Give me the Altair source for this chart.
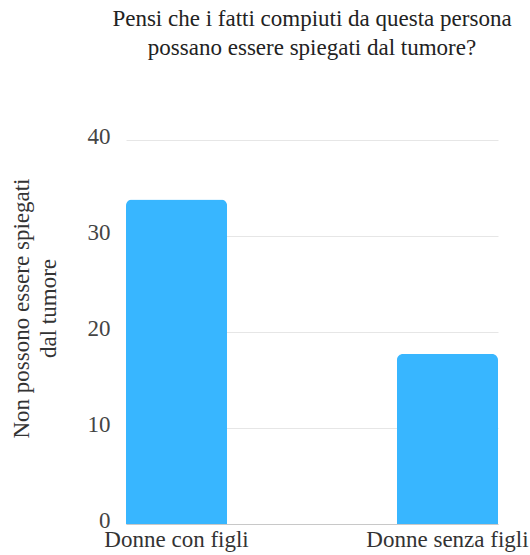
import altair as alt
import pandas as pd

categories = ["Donne con figli", "Donne senza figli"]
values = [33.8, 17.7]

df = pd.DataFrame({"gruppo": categories, "valore": values})

FONT = "Liberation Serif"

chart = (
    alt.Chart(df)
    .mark_bar(color="#38B6FF", cornerRadiusTopLeft=6, cornerRadiusTopRight=6)
    .encode(
        x=alt.X(
            "gruppo:N",
            sort=categories,
            scale=alt.Scale(paddingInner=0.627, paddingOuter=0),
            axis=alt.Axis(
                title=None,
                labelAngle=0,
                labelFont=FONT,
                labelFontSize=23,
                labelColor="#333333",
                labelPadding=4,
                ticks=False,
                domainColor="#c8c8c8",
                grid=False,
            ),
        ),
        y=alt.Y(
            "valore:Q",
            scale=alt.Scale(domain=[0, 40]),
            axis=alt.Axis(
                title=["Non possono essere spiegati", "dal tumore"],
                titleFont=FONT,
                titleFontSize=23,
                titleFontWeight="normal",
                titleColor="#333333",
                titlePadding=27,
                titleLineHeight=27,
                titleY=168,
                values=[0, 10, 20, 30, 40],
                labelFont=FONT,
                labelFontSize=23,
                labelColor="#444444",
                labelPadding=16,
                labelOffset=-4,
                ticks=False,
                domain=False,
                gridColor="#e6e6e6",
            ),
        ),
    )
    .properties(
        width=372,
        height=384,
        title=alt.TitleParams(
            text=["Pensi che i fatti compiuti da questa persona", "possano essere spiegati dal tumore?"],
            font=FONT,
            fontSize=23,
            fontWeight="normal",
            color="#222222",
            anchor="middle",
            lineHeight=29,
            offset=65,
        ),
        autosize=alt.AutoSizeParams(type="none"),
        padding={"left": 126, "top": 140, "right": 32, "bottom": 31},
    )
    .configure_view(stroke=None)
)

chart.save("out.html", embed_options={"renderer": "svg", "actions": False})
